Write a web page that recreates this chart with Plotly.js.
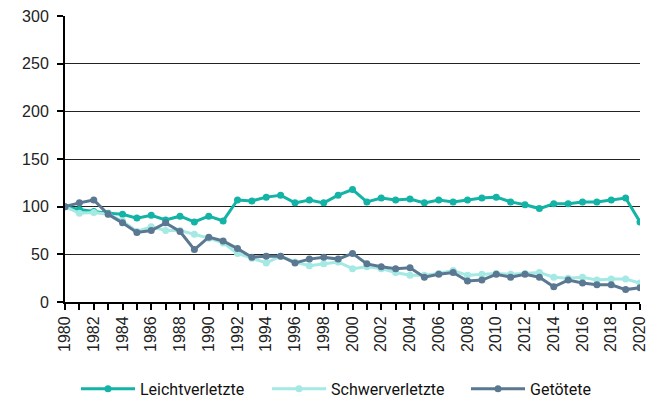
<!DOCTYPE html>
<html>
<head>
<meta charset="utf-8">
<script src="https://cdn.plot.ly/plotly-3.0.1.min.js"></script>
<style>html,body{margin:0;padding:0;background:#fff;}#chart{width:660px;height:405px;}</style>
</head>
<body>
<div id="chart"></div>
<script>
const years = [1980,1981,1982,1983,1984,1985,1986,1987,1988,1989,1990,1991,1992,1993,1994,1995,1996,1997,1998,1999,2000,2001,2002,2003,2004,2005,2006,2007,2008,2009,2010,2011,2012,2013,2014,2015,2016,2017,2018,2019,2020];
const leichtverletzte = [100,97,95,93,92,88,91,86,90,84,90,85,107,106,110,112,104,107,104,112,118,105,109,107,108,104,107,105,107,109,110,105,102,98,103,103,105,105,107,109,84];
const schwerverletzte = [100,93,94,92,85,74,79,75,75,71,67,62,51,46,41,48,42,38,40,42,35,37,35,31,28,28,30,33,28,29,30,29,30,31,26,25,26,23,24,24,20];
const getoetete = [100,104,107,92,83,73,75,83,74,55,68,64,56,47,48,48,41,45,47,45,51,40,37,35,36,26,29,31,22,23,29,26,29,26,16,23,20,18,18,13,15];
const tickYears = [1980,1982,1984,1986,1988,1990,1992,1994,1996,1998,2000,2002,2004,2006,2008,2010,2012,2014,2016,2018,2020];
const yTicks = [0,50,100,150,200,250,300];

function series(name, y, color, legendId) {
  return {x: years, y: y, name: name, type: 'scatter', mode: 'lines+markers', legend: legendId,
    line: {color: color, width: 3}, marker: {color: color, size: 7}};
}
const data = [
  series('Leichtverletzte', leichtverletzte, '#13b3a6', 'legend'),
  series('Schwerverletzte', schwerverletzte, '#a4e9e3', 'legend2'),
  series('Getötete', getoetete, '#5a7891', 'legend3')
];
function legendAt(px) {
  return {orientation: 'h', xref: 'container', yref: 'container', x: px / 660, xanchor: 'left',
    y: 0.04, yanchor: 'middle', bgcolor: 'rgba(0,0,0,0)',
    font: {family: 'Roboto, sans-serif', size: 16, color: '#111'}, itemwidth: 54};
}
const layout = {
  width: 660, height: 405,
  margin: {l: 65, r: 20, t: 16, b: 103},
  paper_bgcolor: '#fff', plot_bgcolor: '#fff',
  font: {family: 'Liberation Sans, Arial, sans-serif', color: '#222', size: 16},
  showlegend: true,
  legend: legendAt(76),
  legend2: legendAt(267),
  legend3: legendAt(466),
  xaxis: {range: [1980, 2020], tickvals: tickYears, ticktext: tickYears.map(String), automargin: false,
    tickangle: -90, ticks: 'outside', ticklen: 6, tickwidth: 2, tickcolor: '#000',
    showline: true, linecolor: '#000', linewidth: 2, showgrid: false, zeroline: false,
    minor: {dtick: 1, tick0: 1980, ticks: 'outside', ticklen: 6, tickwidth: 2, tickcolor: '#000', showgrid: false},
    tickfont: {size: 16, color: '#222'}},
  yaxis: {range: [0, 300], tickvals: yTicks, ticks: 'outside', ticklen: 6, tickwidth: 2, tickcolor: '#000', automargin: false,
    ticklabelstandoff: 5,
    showline: true, linecolor: '#000', linewidth: 2, showgrid: true, gridcolor: '#222', gridwidth: 1,
    zeroline: false, tickfont: {size: 16, color: '#222'}}
};
Plotly.newPlot('chart', data, layout, {displayModeBar: false, staticPlot: true});
</script>
</body>
</html>
